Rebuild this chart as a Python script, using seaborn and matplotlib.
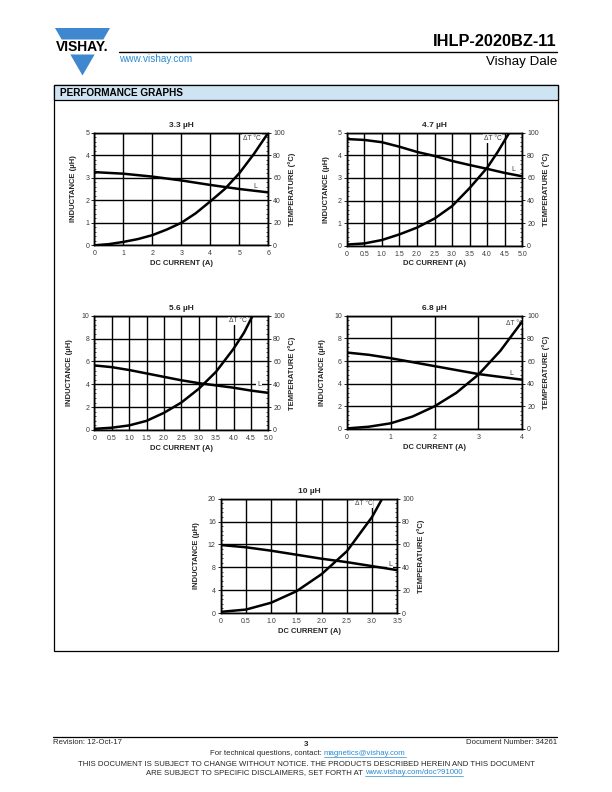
import numpy as np
import pandas as pd
import matplotlib
matplotlib.use("Agg")
import matplotlib.pyplot as plt
import seaborn as sns
from matplotlib.patches import Polygon, Rectangle
from matplotlib.ticker import AutoMinorLocator

# ---------------- data ----------------
titles = ["3.3 µH", "4.7 µH", "5.6 µH", "6.8 µH", "10 µH"]

# 3.3 uH
i33_L = [0, 1, 2, 3, 4, 5, 6]
L33 = [3.25, 3.18, 3.05, 2.88, 2.68, 2.5, 2.35]
i33_T = [0, 0.5, 1, 1.5, 2, 2.5, 3, 3.5, 4, 4.5, 5, 5.5, 6]
T33 = [0, 1, 3, 5.5, 9, 14, 20, 28.5, 39, 50, 64, 81, 100]

# 4.7 uH
i47_L = [0, 0.5, 1.0, 1.5, 2.0, 2.5, 3.0, 3.5, 4.0, 4.5, 5.0]
L47 = [4.72, 4.68, 4.58, 4.38, 4.15, 3.97, 3.75, 3.57, 3.4, 3.22, 3.07]
i47_T = [0, 0.5, 1.0, 1.5, 2.0, 2.5, 3.0, 3.5, 4.0, 4.3, 4.63]
T47 = [1, 2, 5, 10, 16, 24, 35, 51, 69, 83, 100]

# 5.6 uH
i56_L = [0, 0.5, 1.0, 1.5, 2.0, 2.5, 3.0, 3.5, 4.0, 4.5, 5.0]
L56 = [5.65, 5.5, 5.25, 4.95, 4.65, 4.35, 4.1, 3.9, 3.7, 3.45, 3.25]
i56_T = [0, 0.5, 1.0, 1.5, 2.0, 2.5, 3.0, 3.5, 4.0, 4.3, 4.55]
T56 = [1, 2, 4, 8, 15, 24, 36, 51, 71, 85, 100]

# 6.8 uH
i68_L = [0, 0.5, 1.0, 1.5, 2.0, 2.5, 3.0, 3.5, 4.0]
L68 = [6.75, 6.55, 6.25, 5.9, 5.55, 5.2, 4.85, 4.6, 4.35]
i68_T = [0, 0.5, 1.0, 1.5, 2.0, 2.5, 3.0, 3.5, 4.0]
T68 = [0.5, 2, 5, 11, 20, 32, 48, 69, 95]

# 10 uH
i10_L = [0, 0.5, 1.0, 1.5, 2.0, 2.5, 3.0, 3.5]
L10 = [11.9, 11.5, 10.9, 10.2, 9.5, 8.9, 8.2, 7.5]
i10_T = [0, 0.5, 1.0, 1.5, 2.0, 2.5, 3.0, 3.2]
T10 = [1, 3, 9, 19, 34, 54, 84, 100]

# tick labels
xt_int6 = [0, 1, 2, 3, 4, 5, 6]
xt_half5 = [0, 0.5, 1.0, 1.5, 2.0, 2.5, 3.0, 3.5, 4.0, 4.5, 5.0]
xt_int4 = [0, 1, 2, 3, 4]
xt_half35 = [0, 0.5, 1.0, 1.5, 2.0, 2.5, 3.0, 3.5]
yt_5 = [0, 1, 2, 3, 4, 5]
yt_10 = [0, 2, 4, 6, 8, 10]
yt_20 = [0, 4, 8, 12, 16, 20]
yt_temp = [0, 20, 40, 60, 80, 100]

# ---------------- figure ----------------
sns.set_theme(style="white")
plt.rcParams["font.family"] = ["Liberation Sans", "DejaVu Sans"]

W, H = 612, 792
fig = plt.figure(figsize=(W / 100, H / 100), dpi=100)
fig.patch.set_facecolor("white")


def rect(x0, y0, x1, y1):
    return [x0 / W, 1 - y1 / H, (x1 - x0) / W, (y1 - y0) / H]


BLUE = "#3f87cf"
LINK = "#2b8bd2"

bg = fig.add_axes([0, 0, 1, 1], zorder=-5)
bg.set_xlim(0, W)
bg.set_ylim(H, 0)
bg.axis("off")

# ---------------- logo ----------------
LX0, LX1, LY0, AX, AY = 55.0, 110.0, 28.0, 82.5, 75.5


def xl(y):
    return LX0 + (y - LY0) * (AX - LX0) / (AY - LY0)


def xr(y):
    return LX1 - (y - LY0) * (LX1 - AX) / (AY - LY0)


bg.add_patch(Polygon([(LX0, LY0), (LX1, LY0), (xr(39.5), 39.5), (xl(39.5), 39.5)],
                     closed=True, fc=BLUE, ec="none"))
bg.add_patch(Polygon([(xl(54.5), 54.5), (xr(54.5), 54.5), (AX, AY)],
                     closed=True, fc=BLUE, ec="none"))
bg.text(82.5, 47.3, "VISHAY.", ha="center", va="center", fontsize=10,
        fontweight="bold", color="black")

# ---------------- header ----------------
bg.plot([119, 557], [52, 52], color="black", lw=1.0)
bg.text(557, 41, "IHLP-2020BZ-11", ha="right", va="center", fontsize=11.8,
        fontweight="bold", color="black")
bg.text(557, 62, "Vishay Dale", ha="right", va="center", fontsize=9.6,
        color="black")
bg.text(119, 59, "www.vishay.com", ha="left", va="center", fontsize=7.2,
        color=LINK)

# performance graphs box
bg.add_patch(Rectangle((53.5, 85.3), 504, 565.4, fc="none", ec="black", lw=0.9))
bg.add_patch(Rectangle((53.5, 85.3), 504, 14.7, fc="#cfe4f2", ec="black", lw=0.9))
bg.text(60.5, 92.8, "PERFORMANCE GRAPHS", ha="left", va="center", fontsize=7.2,
        fontweight="bold", color="black")

# ---------------- footer ----------------
FS = 5.6
bg.plot([53, 557], [737, 737], color="black", lw=0.9)
bg.text(53, 743, "Revision: 12-Oct-17", ha="left", va="center", fontsize=FS)
bg.text(306, 744, "3", ha="center", va="center", fontsize=FS + 0.2,
        fontweight="bold")
bg.text(557, 743, "Document Number: 34261", ha="right", va="center", fontsize=FS)
bg.text(324, 753.5, "For technical questions, contact: ", ha="right",
        va="center", fontsize=FS)
link1 = bg.text(324, 753.5, "magnetics@vishay.com", ha="left", va="center",
                fontsize=FS, color=LINK)
bg.text(306, 765, "THIS DOCUMENT IS SUBJECT TO CHANGE WITHOUT NOTICE. THE "
        "PRODUCTS DESCRIBED HEREIN AND THIS DOCUMENT", ha="center",
        va="center", fontsize=FS)
bg.text(365, 772.7, "ARE SUBJECT TO SPECIFIC DISCLAIMERS, SET FORTH AT ",
        ha="right", va="center", fontsize=FS)
link2 = bg.text(365, 772.7, "www.vishay.com/doc?91000", ha="left", va="center",
                fontsize=FS, color=LINK)

TICKC = "#3a3a3a"


def make_chart(box, title, iL, Lv, iT, Tv, xticks, xlabels, yticks,
               dt_pos, l_pos):
    ax = fig.add_axes(rect(*box))
    dfL = pd.DataFrame({"I": iL, "L": Lv})
    dfT = pd.DataFrame({"I": iT, "T": Tv})
    xmax = xticks[-1]
    ax.set_xlim(0, xmax)
    ax.set_ylim(0, yticks[-1])
    ax.set_xticks(xticks)
    ax.set_xticklabels(xlabels)
    ax.set_yticks(yticks)
    ax.set_yticklabels([str(v) for v in yticks])
    ax.grid(True, which="major", color="black", lw=1.0)
    ax.set_axisbelow(True)
    sns.lineplot(data=dfL, x="I", y="L", ax=ax, color="black", lw=1.8,
                 zorder=5)
    for s in ax.spines.values():
        s.set_color("black")
        s.set_linewidth(1.0)
    ax.xaxis.set_minor_locator(AutoMinorLocator(5))
    ax.yaxis.set_minor_locator(AutoMinorLocator(5))
    ax.tick_params(axis="both", which="major", labelsize=5, colors="black",
                   labelcolor=TICKC, length=2, width=0.6, pad=1.5,
                   direction="out")
    ax.tick_params(axis="both", which="minor", length=1.5, width=0.5,
                   direction="in", colors="black")
    ax.set_xlabel("DC CURRENT (A)", fontsize=5.5, fontweight="bold",
                  labelpad=2)
    ax.set_ylabel("INDUCTANCE (µH)", fontsize=5.5, fontweight="bold",
                  labelpad=6)
    ax.set_title(title, fontsize=6, fontweight="bold", pad=4)

    tx = ax.twinx()
    tx.set_ylim(0, 100)
    tx.set_yticks(yt_temp)
    tx.set_yticklabels([str(v) for v in yt_temp])
    sns.lineplot(data=dfT, x="I", y="T", ax=tx, color="black", lw=1.8)
    tx.set_xlim(0, xmax)
    tx.grid(False)
    tx.yaxis.set_minor_locator(AutoMinorLocator(5))
    tx.tick_params(axis="y", which="major", labelsize=5, colors="black",
                   labelcolor=TICKC, length=2, width=0.6, pad=1.5,
                   direction="out")
    tx.tick_params(axis="y", which="minor", length=1.5, width=0.5,
                   direction="in", colors="black")
    tx.set_ylabel("TEMPERATURE (°C)", fontsize=5.5, fontweight="bold",
                  labelpad=2.5)
    tx.set_xlabel("")
    for s in tx.spines.values():
        s.set_color("black")
        s.set_linewidth(1.0)
    bbox = dict(boxstyle="square,pad=0.15", fc="white", ec="none")
    tx.text(dt_pos[0], dt_pos[1], "ΔT °C", ha="center", va="center",
            fontsize=4.8, color=TICKC, bbox=bbox, zorder=1)
    ax.text(l_pos[0], l_pos[1], "L", ha="center", va="center",
            fontsize=5, color=TICKC, bbox=bbox, zorder=4)
    return ax, tx


make_chart((94.3, 132.7, 268.3, 245.3), titles[0], i33_L, L33, i33_T, T33,
           xt_int6, [str(v) for v in xt_int6], yt_5,
           (5.45, 95), (5.54, 2.63))
make_chart((346.7, 132.7, 522.3, 245.7), titles[1], i47_L, L47, i47_T, T47,
           xt_half5, ["0"] + [f"{v:.1f}" for v in xt_half5[1:]], yt_5,
           (4.15, 95), (4.76, 3.35))
make_chart((94.3, 315.7, 268.3, 430.0), titles[2], i56_L, L56, i56_T, T56,
           xt_half5, ["0"] + [f"{v:.1f}" for v in xt_half5[1:]], yt_10,
           (4.12, 96), (4.73, 3.94))
make_chart((346.7, 315.7, 522.3, 429.0), titles[3], i68_L, L68, i68_T, T68,
           xt_int4, [str(v) for v in xt_int4], yt_10,
           (3.83, 93), (3.76, 4.9))
make_chart((220.7, 498.7, 397.3, 613.0), titles[4], i10_L, L10, i10_T, T10,
           xt_half35, ["0"] + [f"{v:.1f}" for v in xt_half35[1:]], yt_20,
           (2.83, 96), (3.36, 8.57))

# underline the links using their rendered extents
fig.canvas.draw()
r = fig.canvas.get_renderer()
inv = bg.transData.inverted()
for t, y in ((link1, 756.8), (link2, 776.0)):
    bb = t.get_window_extent(r)
    (x0, _), (x1, _) = inv.transform([(bb.x0, bb.y0), (bb.x1, bb.y1)])
    bg.plot([x0, x1], [y, y], color=LINK, lw=0.5)

fig.savefig("out.png", dpi=100)
